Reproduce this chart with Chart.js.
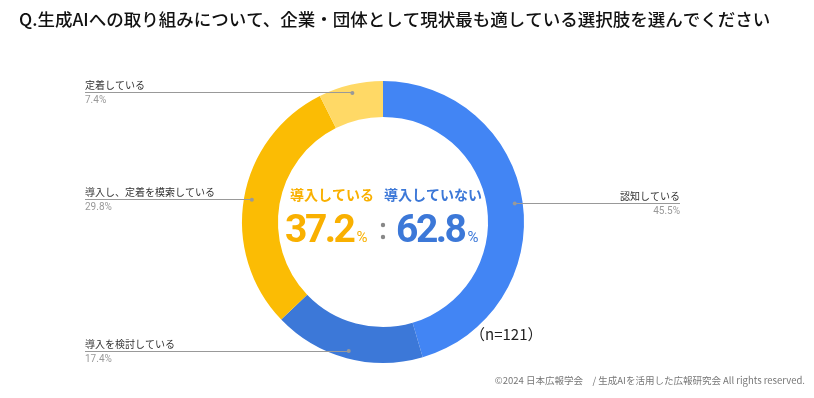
<!DOCTYPE html>
<html>
<head>
<meta charset="utf-8">
<script src="https://cdn.jsdelivr.net/npm/chart.js@4"></script>
<style>
  html, body { margin: 0; padding: 0; background: #fff; }
  #wrap { width: 814px; height: 398px; position: relative; }
</style>
</head>
<body>
<div id="wrap"><canvas id="c" width="814" height="398"></canvas></div>
<script>
const categories = ['認知している', '導入を検討している', '導入し、定着を模索している', '定着している'];
const values = [45.5, 17.4, 29.8, 7.4];
const sliceColors = ['#4285f4', '#3c78d8', '#fbbc04', '#ffd966'];
const summaryLabels = ['導入している', '導入していない'];
const summaryValues = ['37.2', '62.8'];
const titleText = 'Q.生成AIへの取り組みについて、企業・団体として現状最も適している選択肢を選んでください';
const sampleText = '（n=121）';
const footerText = '©2024 日本広報学会　/ 生成AIを活用した広報研究会 All rights reserved.';

const JP = '"Noto Sans CJK JP", "Noto Sans", sans-serif';
const NUM = 'Roboto, "Noto Sans", sans-serif';

const overlay = {
  id: 'overlay',
  afterDraw(chart) {
    const ctx = chart.ctx;
    const arcs = chart.getDatasetMeta(0).data;
    ctx.save();

    // title
    ctx.fillStyle = '#111';
    ctx.font = '500 17.5px ' + JP;
    ctx.textBaseline = 'middle';
    ctx.textAlign = 'left';
    ctx.fillText(titleText, 19, 19);

    // leader lines + labels
    arcs.forEach((arc, i) => {
      const mid = (arc.startAngle + arc.endAngle) / 2;
      const r = arc.innerRadius + (arc.outerRadius - arc.innerRadius) * 0.78;
      const dx = arc.x + Math.cos(mid) * r;
      const dy = arc.y + Math.sin(mid) * r;
      const right = Math.cos(mid) > 0.5;
      const lx = right ? 680 : 85;
      ctx.strokeStyle = '#999';
      ctx.lineWidth = 1;
      ctx.beginPath();
      ctx.moveTo(lx, Math.round(dy) + 0.5);
      ctx.lineTo(dx, Math.round(dy) + 0.5);
      ctx.stroke();
      ctx.fillStyle = '#999';
      ctx.beginPath();
      ctx.arc(dx, dy + 0.5, 2, 0, Math.PI * 2);
      ctx.fill();
      ctx.textAlign = right ? 'right' : 'left';
      ctx.textBaseline = 'alphabetic';
      ctx.fillStyle = '#333';
      ctx.font = '10px ' + JP;
      ctx.fillText(categories[i], lx, dy - 3);
      ctx.fillStyle = '#999';
      ctx.font = '10px ' + NUM;
      ctx.fillText(values[i].toFixed(1) + '%', lx, dy + 11);
    });

    // centre summary
    const cx = arcs[0].x;
    const cy = arcs[0].y;
    ctx.textBaseline = 'middle';
    ctx.textAlign = 'center';
    ctx.font = 'bold 14px ' + JP;
    ctx.fillStyle = '#f9b000';
    ctx.fillText(summaryLabels[0], cx - 51, cy - 27);
    ctx.fillStyle = '#3c78d8';
    ctx.fillText(summaryLabels[1], cx + 50, cy - 27);

    const drawValue = (text, x, color) => {
      ctx.textBaseline = 'alphabetic';
      ctx.textAlign = 'left';
      ctx.letterSpacing = '-2.5px';
      ctx.font = 'bold 39px ' + NUM;
      ctx.fillStyle = color;
      ctx.fillText(text, x, cy + 20);
      const w = ctx.measureText(text).width;
      ctx.letterSpacing = '0px';
      ctx.font = '15px ' + NUM;
      ctx.fillText('%', x + w + 3, cy + 20);
    };
    drawValue(summaryValues[0], cx - 98, '#f9b000');
    drawValue(summaryValues[1], cx + 13, '#3c78d8');

    ctx.fillStyle = '#888';
    ctx.beginPath();
    ctx.arc(cx, cy + 3, 2.2, 0, Math.PI * 2);
    ctx.arc(cx, cy + 15, 2.2, 0, Math.PI * 2);
    ctx.fill();

    // sample size
    ctx.fillStyle = '#222';
    ctx.font = '15px ' + JP;
    ctx.textAlign = 'left';
    ctx.textBaseline = 'middle';
    ctx.fillText(sampleText, 470, 334);

    // footer
    ctx.fillStyle = '#777';
    ctx.font = '9.5px ' + JP;
    ctx.textAlign = 'right';
    ctx.fillText(footerText, 805, 380);

    ctx.restore();
  }
};

new Chart(document.getElementById('c'), {
  type: 'doughnut',
  data: {
    labels: categories,
    datasets: [{
      data: values,
      backgroundColor: sliceColors,
      borderWidth: 0
    }]
  },
  options: {
    responsive: false,
    animation: false,
    cutout: '74.5%',
    layout: { padding: { left: 242, right: 290, top: 81, bottom: 35 } },
    plugins: {
      legend: { display: false },
      tooltip: { enabled: false }
    }
  },
  plugins: [overlay]
});
</script>
</body>
</html>
